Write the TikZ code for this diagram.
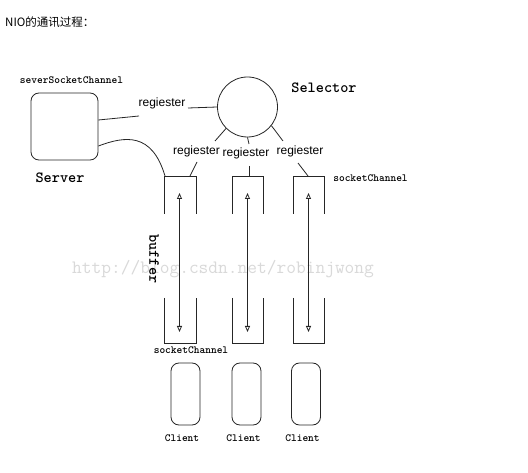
\documentclass[tikz,border=0pt]{standalone}
\usepackage{fontspec}
\newfontfamily\cjk{Noto Sans CJK SC}
\newfontfamily\sansf{Liberation Sans}
\usetikzlibrary{arrows.meta}
\begin{document}
\begin{tikzpicture}[x=1pt,y=-1pt,
 line/.style={line width=0.8pt, draw=black!85},
 regl/.style={font=\sansf\fontsize{12}{12}\selectfont, inner sep=0pt, anchor=base},
 ttl/.style={font=\ttfamily\bfseries\fontsize{10.9}{11}\selectfont, inner sep=0pt, anchor=base},
 bigl/.style={font=\ttfamily\bfseries\fontsize{15.5}{16}\selectfont, inner sep=0pt, anchor=base},
 rbox/.style={draw=black!85, line width=0.8pt, rounded corners=8pt, inner sep=0pt},
 dbl/.style={line width=0.8pt, draw=black!85, {Triangle[open,length=6pt,width=5pt]}-{Triangle[open,length=6pt,width=5pt]}},
]
\useasboundingbox (0,0) rectangle (528,473);
\fill[white] (0,0) rectangle (528,473);
% watermark
\node[font=\ttfamily\fontsize{18.9}{19}\selectfont, text=black!15, inner sep=0pt, anchor=base west] (wm) at (72,274) {http://blog.csdn.net/robinjwong};
% title
\node[font=\cjk\fontsize{11.5}{12}\selectfont, inner sep=0pt, anchor=base west] (title) at (5,27) {NIO的通讯过程：};
% server
\node[rbox, minimum width=67pt, minimum height=67pt] (server) at (64.5,126.5) {};
\node[ttl] (ssc) at (71.5,84) {severSocketChannel};
\node[bigl] (serverl) at (60,183) {Server};
% selector
\node[draw=black!85, line width=0.8pt, circle, minimum size=60pt, inner sep=0pt] (selector) at (247.5,107) {};
\node[bigl] (selectorl) at (324,93) {Selector};
% register labels
\node[regl] (reg0) at (162,107) {regiester};
\node[regl] (reg1) at (196.5,155) {regiester};
\node[regl] (reg2) at (246,157) {regiester};
\node[regl] (reg3) at (300,155) {regiester};
% coordinates
\coordinate (s0a) at (139,116);
\coordinate (s0b) at (188,108);
\coordinate (r1a) at (215,141);
\coordinate (r1b) at (197,162);
\coordinate (t1) at (190,176);
\coordinate (r2a) at (249,144);
\coordinate (r2b) at (249,166);
\coordinate (t2) at (249,176);
\coordinate (r3a) at (283,141);
\coordinate (r3b) at (298,163);
\coordinate (t3) at (308,176);
\coordinate (c1tl) at (165,176);
% server connectors
\draw[line] ([yshift=6.5pt]server.east) -- (s0a);
\draw[line] (s0b) -- (selector.west);
\draw[line] ([yshift=-19.5pt]server.east) .. controls (125,136) and (152,132) .. (c1tl);
% selector connectors
\draw[line] (selector.225) -- (r1a);
\draw[line] (r1b) -- (t1);
\draw[line] (selector.south) -- (r2a);
\draw[line] (r2b) -- (t2);
\draw[line] (selector.322) -- (r3a);
\draw[line] (r3b) -- (t3);
% columns
\draw[line] (164,214) |- (196,176) -- (196,214);
\draw[line] (164,298) |- (196,343) -- (196,298);
\draw[line] (232,214) |- (263,176) -- (263,214);
\draw[line] (232,298) |- (263,343) -- (263,298);
\draw[line] (293,214) |- (324,176) -- (324,214);
\draw[line] (293,298) |- (324,343) -- (324,298);
% arrows
\coordinate (a1t) at (179.5,193); \coordinate (a1b) at (179.5,332);
\coordinate (a2t) at (247.5,193); \coordinate (a2b) at (247.5,332);
\coordinate (a3t) at (308.5,193); \coordinate (a3b) at (308.5,332);
\draw[dbl] (a1t) -- (a1b);
\draw[dbl] (a2t) -- (a2b);
\draw[dbl] (a3t) -- (a3b);
% labels
\node[bigl, anchor=center, rotate=-90] (buffer) at (154,259) {buffer};
\node[ttl] (sc1) at (370.5,182) {socketChannel};
\node[ttl] (sc2) at (191,354) {socketChannel};
% clients
\node[rbox, minimum width=29pt, minimum height=62pt] (cl1) at (185.5,394) {};
\node[rbox, minimum width=29pt, minimum height=62pt] (cl2) at (246.5,394) {};
\node[rbox, minimum width=29pt, minimum height=62pt] (cl3) at (306,394) {};
\node[ttl] (cl1l) at (182,441) {Client};
\node[ttl] (cl2l) at (243.5,441) {Client};
\node[ttl] (cl3l) at (302.5,441) {Client};
\end{tikzpicture}
\end{document}
